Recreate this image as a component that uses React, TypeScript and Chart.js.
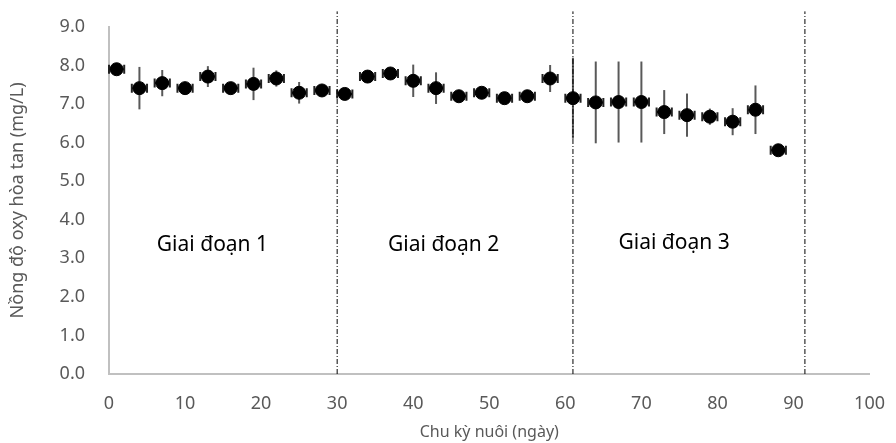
import React, { useEffect, useRef } from "react";
import { Chart, registerables } from "chart.js";

Chart.register(...registerables);

const days = [1, 4, 7, 10, 13, 16, 19, 22, 25, 28, 31, 34, 37, 40, 43, 46, 49, 52, 55, 58, 61, 64, 67, 70, 73, 76, 79, 82, 85, 88];
const oxy = [7.9, 7.41, 7.54, 7.41, 7.71, 7.41, 7.52, 7.66, 7.29, 7.35, 7.26, 7.71, 7.79, 7.6, 7.41, 7.2, 7.29, 7.15, 7.2, 7.66, 7.15, 7.04, 7.05, 7.05, 6.79, 6.71, 6.67, 6.54, 6.85, 5.8];
const oxyErr = [0.03, 0.55, 0.34, 0.03, 0.27, 0.03, 0.42, 0.21, 0.28, 0.03, 0.03, 0.03, 0.03, 0.42, 0.41, 0.03, 0.03, 0.03, 0.03, 0.35, 1.05, 1.06, 1.05, 1.05, 0.57, 0.56, 0.21, 0.35, 0.63, 0.03];
const dayErr = [1, 1, 1, 1, 1, 1, 1, 1, 1, 1, 1, 1, 1, 1, 1, 1, 1, 1, 1, 1, 1, 1, 1, 1, 1, 1, 1, 1, 1, 1];
const phaseLines = [30, 61, 91.5];
const phaseLabels = ["Giai đoạn 1", "Giai đoạn 2", "Giai đoạn 3"];
const phaseLabelX = [13.6, 44, 74.3];
const phaseLabelY = [3.35, 3.35, 3.4];
const xTitle = "Chu kỳ nuôi (ngày)";
const yTitle = "Nồng độ oxy hòa tan (mg/L)";

const FONT = "'Noto Sans', 'Open Sans', sans-serif";

const errorBarPlugin = {
  id: "errorBars",
  beforeDatasetsDraw(chart: any) {
    const { ctx, scales } = chart;
    const xs = scales.x;
    const ys = scales.y;
    ctx.save();
    for (let i = 0; i < days.length; i++) {
      const cx = xs.getPixelForValue(days[i]);
      const cy = ys.getPixelForValue(oxy[i]);
      const yTop = ys.getPixelForValue(oxy[i] + oxyErr[i]);
      const yBot = ys.getPixelForValue(oxy[i] - oxyErr[i]);
      ctx.strokeStyle = "#595959";
      ctx.lineWidth = 2;
      ctx.beginPath();
      ctx.moveTo(cx, yTop);
      ctx.lineTo(cx, yBot);
      ctx.stroke();
      const xl = xs.getPixelForValue(days[i] - dayErr[i]);
      const xr = xs.getPixelForValue(days[i] + dayErr[i]);
      ctx.strokeStyle = "#222";
      ctx.beginPath();
      ctx.moveTo(xl, cy);
      ctx.lineTo(xr, cy);
      ctx.moveTo(xl, cy - 4.5);
      ctx.lineTo(xl, cy + 4.5);
      ctx.moveTo(xr, cy - 4.5);
      ctx.lineTo(xr, cy + 4.5);
      ctx.stroke();
    }
    ctx.restore();
  },
  afterDraw(chart: any) {
    const { ctx, scales } = chart;
    ctx.save();
    ctx.fillStyle = "#000";
    ctx.font = `21px ${FONT}`;
    ctx.textAlign = "center";
    ctx.textBaseline = "middle";
    for (let i = 0; i < phaseLabels.length; i++) {
      ctx.fillText(phaseLabels[i], scales.x.getPixelForValue(phaseLabelX[i]), scales.y.getPixelForValue(phaseLabelY[i]));
    }
    ctx.restore();
  },
};

export default function App() {
  const ref = useRef<HTMLCanvasElement>(null);
  useEffect(() => {
    const lineSets = phaseLines.map((px) => ({
      type: "line" as const,
      data: [{ x: px, y: 0 }, { x: px, y: 9.4 }],
      borderColor: "#000",
      borderWidth: 1,
      borderDash: [5, 2, 1, 2],
      pointRadius: 0,
      showLine: true,
      clip: false as any,
      fill: false,
    }));
    const chart = new Chart(ref.current!, {
      type: "scatter",
      data: {
        datasets: [
          {
            data: days.map((d, i) => ({ x: d, y: oxy[i] })),
            backgroundColor: "#000",
            borderColor: "#000",
            pointRadius: 6.5,
            pointHoverRadius: 6.5,
            pointStyle: "circle",
          } as any,
          ...lineSets,
        ],
      },
      options: {
        responsive: false,
        animation: false,
        events: [],
        layout: { padding: { top: 22, right: 21, left: 0, bottom: 0 } },
        plugins: { legend: { display: false }, tooltip: { enabled: false } },
        scales: {
          x: {
            type: "linear",
            min: 0,
            max: 100,
            grid: { display: false },
            border: { display: true, color: "#c0c0c0", width: 2 },
            ticks: { stepSize: 10, color: "#595959", font: { size: 18, family: FONT }, padding: 11 },
            title: { display: true, text: xTitle, color: "#595959", font: { size: 16, family: FONT }, padding: { top: 0, bottom: 1 } },
            afterFit: (s: any) => { s.height = 69; },
          },
          y: {
            min: 0,
            max: 9,
            grid: { display: false },
            border: { display: true, color: "#c0c0c0", width: 2 },
            ticks: { stepSize: 1, color: "#595959", font: { size: 18, family: FONT }, padding: 16, callback: (v: any) => Number(v).toFixed(1) },
            title: { display: true, text: yTitle, color: "#595959", font: { size: 18, family: FONT }, padding: { top: 7, bottom: 0 } },
            afterFit: (s: any) => { s.width = 109; },
          },
        },
      },
      plugins: [errorBarPlugin],
    });
    return () => chart.destroy();
  }, []);
  return (
    <div style={{ position: "fixed", left: 0, top: 0, width: 896, height: 443, background: "#fff" }}>
      <canvas ref={ref} width={896} height={443} />
    </div>
  );
}
